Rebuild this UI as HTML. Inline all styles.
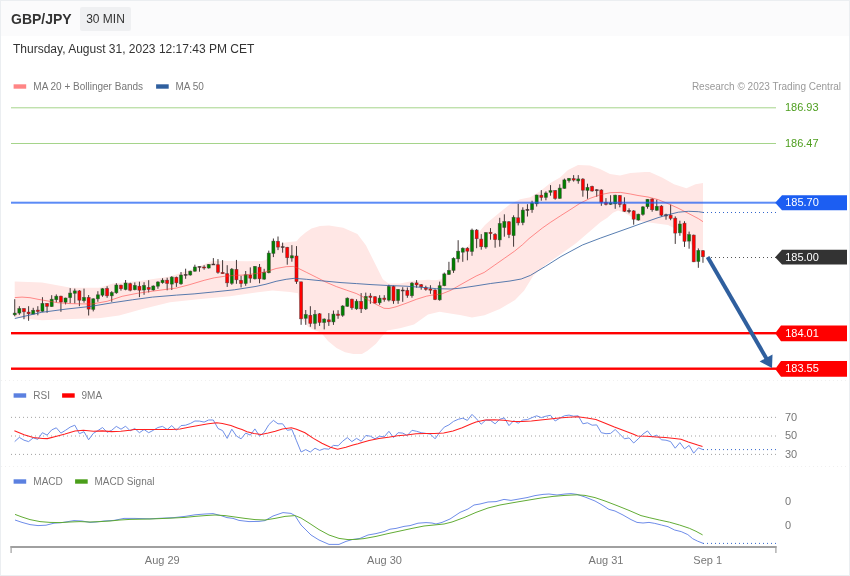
<!DOCTYPE html>
<html lang="en">
<head>
<meta charset="utf-8">
<title>GBP/JPY 30 MIN</title>
<style>
html,body{margin:0;padding:0;background:#fff;}
body{width:850px;height:576px;overflow:hidden;font-family:"Liberation Sans",sans-serif;}
#wrap{position:relative;width:848px;height:574px;border:1px solid #ebeef1;background:#fff;}
#hdr{position:absolute;left:0;top:0;width:848px;height:35px;background:#fbfbfc;}
#sym{position:absolute;left:10px;top:9px;font-size:14px;font-weight:bold;color:#333;line-height:18px;white-space:nowrap;}
#tf{position:absolute;left:79px;top:6px;width:51px;height:24px;background:#eff0f2;border-radius:2px;font-size:12px;color:#333;line-height:24px;text-align:center;white-space:nowrap;}
#date{position:absolute;left:12px;top:40px;font-size:12px;color:#333;line-height:16px;white-space:nowrap;}
svg{position:absolute;left:-1px;top:-1px;}
svg text{font-family:"Liberation Sans",sans-serif;}
</style>
</head>
<body>
<div id="wrap">
<div id="hdr"></div>
<div id="sym">GBP/JPY</div>
<div id="tf">30 MIN</div>
<div id="date">Thursday, August 31, 2023 12:17:43 PM CET</div>
<svg width="850" height="576" viewBox="0 0 850 576">
<polygon points="14.7,281.5 42.0,282.6 71.0,287.7 99.0,287.7 113.0,283.5 141.5,280.7 170.0,276.4 192.0,269.3 212.0,260.9 230.0,260.9 247.0,261.2 262.0,261.0 266.0,260.0 270.0,256.0 274.0,250.5 278.0,246.0 282.0,243.0 289.0,242.1 296.5,241.2 300.2,236.9 305.9,232.2 311.5,228.5 320.0,226.1 329.0,225.5 343.2,227.7 357.4,234.0 365.9,245.3 374.4,262.3 382.8,279.3 388.5,283.5 399.8,283.5 414.0,280.7 428.0,279.8 436.0,280.2 441.3,279.3 446.0,274.0 452.0,266.5 458.0,258.8 463.2,252.2 470.0,243.5 476.0,236.0 482.0,228.5 485.0,225.0 490.0,220.5 500.0,212.3 510.0,204.2 520.2,199.2 530.3,197.2 540.4,191.1 550.4,183.1 560.0,177.6 568.0,170.1 578.0,165.0 590.0,165.5 600.0,169.1 610.0,174.1 620.0,175.6 630.5,173.1 645.0,171.9 649.7,172.0 662.0,177.5 674.0,184.3 686.4,188.2 695.5,184.3 703.0,183.0 703.0,252.0 698.0,249.5 693.0,246.0 688.0,241.0 684.0,236.0 679.0,231.0 674.0,228.0 668.0,225.0 653.0,223.0 638.0,221.0 631.0,216.5 624.0,212.5 618.0,210.4 613.0,212.7 607.0,218.0 600.7,221.9 588.5,232.6 576.0,243.3 561.0,254.0 545.7,264.7 533.4,275.4 524.0,290.7 515.0,300.0 499.8,309.0 484.5,315.2 472.0,317.6 460.0,315.0 456.4,314.6 439.5,311.8 428.0,314.6 414.0,324.5 400.0,328.2 387.3,330.4 381.6,336.7 376.0,343.8 367.5,350.8 361.9,354.0 353.4,354.0 345.0,352.2 336.5,348.0 328.0,341.0 321.0,332.5 314.0,330.0 308.2,326.8 304.0,321.5 301.0,316.0 299.5,305.0 298.0,293.3 290.0,292.0 272.5,290.6 258.0,292.3 230.0,296.3 198.0,299.3 170.0,302.3 141.5,309.3 130.0,312.6 119.0,315.4 99.0,318.3 71.0,318.9 42.0,320.3 14.7,317.5" fill="#ffe7e5" />
<rect x="14.23" y="299.2" width="1" height="17.1" fill="#433838"/>
<rect x="13.18" y="313.1" width="3.1" height="1.7" fill="#008000" stroke="#433838" stroke-opacity="0.65" stroke-width="0.65"/>
<rect x="18.85" y="306.2" width="1" height="8.6" fill="#433838"/>
<rect x="17.80" y="308.5" width="3.1" height="4.6" fill="#008000" stroke="#433838" stroke-opacity="0.65" stroke-width="0.65"/>
<rect x="23.47" y="308.3" width="1" height="10.9" fill="#433838"/>
<rect x="22.42" y="308.5" width="3.1" height="3.3" fill="#ff0000" stroke="#433838" stroke-opacity="0.65" stroke-width="0.65"/>
<rect x="28.09" y="306.2" width="1" height="14.6" fill="#433838"/>
<rect x="27.04" y="312.1" width="3.1" height="1.7" fill="#ff0000" stroke="#433838" stroke-opacity="0.65" stroke-width="0.65"/>
<rect x="32.71" y="307.8" width="1" height="6.5" fill="#433838"/>
<rect x="31.66" y="310.3" width="3.1" height="3.8" fill="#008000" stroke="#433838" stroke-opacity="0.65" stroke-width="0.65"/>
<rect x="37.33" y="306.2" width="1" height="9.1" fill="#433838"/>
<rect x="36.28" y="310.1" width="3.1" height="1.4" fill="#ff0000" stroke="#433838" stroke-opacity="0.65" stroke-width="0.65"/>
<rect x="41.94" y="297.2" width="1" height="14.6" fill="#433838"/>
<rect x="40.89" y="303.4" width="3.1" height="7.9" fill="#008000" stroke="#433838" stroke-opacity="0.65" stroke-width="0.65"/>
<rect x="46.56" y="303.2" width="1" height="9.6" fill="#433838"/>
<rect x="45.51" y="303.4" width="3.1" height="3.0" fill="#ff0000" stroke="#433838" stroke-opacity="0.65" stroke-width="0.65"/>
<rect x="51.18" y="295.2" width="1" height="11.6" fill="#433838"/>
<rect x="50.13" y="299.2" width="3.1" height="7.4" fill="#008000" stroke="#433838" stroke-opacity="0.65" stroke-width="0.65"/>
<rect x="55.80" y="294.4" width="1" height="7.9" fill="#433838"/>
<rect x="54.75" y="296.2" width="3.1" height="3.5" fill="#008000" stroke="#433838" stroke-opacity="0.65" stroke-width="0.65"/>
<rect x="60.42" y="295.7" width="1" height="16.1" fill="#433838"/>
<rect x="59.37" y="296.2" width="3.1" height="5.8" fill="#ff0000" stroke="#433838" stroke-opacity="0.65" stroke-width="0.65"/>
<rect x="65.04" y="297.7" width="1" height="6.7" fill="#433838"/>
<rect x="63.99" y="298.0" width="3.1" height="4.2" fill="#008000" stroke="#433838" stroke-opacity="0.65" stroke-width="0.65"/>
<rect x="69.66" y="288.1" width="1" height="15.1" fill="#433838"/>
<rect x="68.61" y="293.1" width="3.1" height="4.5" fill="#008000" stroke="#433838" stroke-opacity="0.65" stroke-width="0.65"/>
<rect x="74.28" y="288.6" width="1" height="14.8" fill="#433838"/>
<rect x="73.23" y="290.9" width="3.1" height="2.4" fill="#008000" stroke="#433838" stroke-opacity="0.65" stroke-width="0.65"/>
<rect x="78.90" y="290.1" width="1" height="16.1" fill="#433838"/>
<rect x="77.85" y="290.9" width="3.1" height="9.3" fill="#ff0000" stroke="#433838" stroke-opacity="0.65" stroke-width="0.65"/>
<rect x="83.52" y="288.6" width="1" height="14.1" fill="#433838"/>
<rect x="82.47" y="297.4" width="3.1" height="3.3" fill="#008000" stroke="#433838" stroke-opacity="0.65" stroke-width="0.65"/>
<rect x="88.13" y="295.0" width="1" height="20.5" fill="#433838"/>
<rect x="87.08" y="297.4" width="3.1" height="11.7" fill="#ff0000" stroke="#433838" stroke-opacity="0.65" stroke-width="0.65"/>
<rect x="92.75" y="298.3" width="1" height="13.1" fill="#433838"/>
<rect x="91.70" y="298.8" width="3.1" height="10.6" fill="#008000" stroke="#433838" stroke-opacity="0.65" stroke-width="0.65"/>
<rect x="97.37" y="291.2" width="1" height="10.6" fill="#433838"/>
<rect x="96.32" y="294.8" width="3.1" height="4.0" fill="#008000" stroke="#433838" stroke-opacity="0.65" stroke-width="0.65"/>
<rect x="101.99" y="288.2" width="1" height="8.6" fill="#433838"/>
<rect x="100.94" y="288.7" width="3.1" height="6.5" fill="#008000" stroke="#433838" stroke-opacity="0.65" stroke-width="0.65"/>
<rect x="106.61" y="286.2" width="1" height="11.6" fill="#433838"/>
<rect x="105.56" y="288.4" width="3.1" height="7.4" fill="#ff0000" stroke="#433838" stroke-opacity="0.65" stroke-width="0.65"/>
<rect x="111.23" y="291.2" width="1" height="10.6" fill="#433838"/>
<rect x="110.18" y="292.5" width="3.1" height="3.3" fill="#008000" stroke="#433838" stroke-opacity="0.65" stroke-width="0.65"/>
<rect x="115.85" y="283.2" width="1" height="10.6" fill="#433838"/>
<rect x="114.80" y="285.0" width="3.1" height="7.8" fill="#008000" stroke="#433838" stroke-opacity="0.65" stroke-width="0.65"/>
<rect x="120.47" y="284.7" width="1" height="6.0" fill="#433838"/>
<rect x="119.42" y="285.2" width="3.1" height="3.5" fill="#ff0000" stroke="#433838" stroke-opacity="0.65" stroke-width="0.65"/>
<rect x="125.09" y="280.0" width="1" height="10.3" fill="#433838"/>
<rect x="124.04" y="283.0" width="3.1" height="6.5" fill="#008000" stroke="#433838" stroke-opacity="0.65" stroke-width="0.65"/>
<rect x="129.70" y="282.7" width="1" height="8.6" fill="#433838"/>
<rect x="128.65" y="283.7" width="3.1" height="6.5" fill="#ff0000" stroke="#433838" stroke-opacity="0.65" stroke-width="0.65"/>
<rect x="134.32" y="282.4" width="1" height="7.9" fill="#433838"/>
<rect x="133.27" y="285.4" width="3.1" height="4.3" fill="#008000" stroke="#433838" stroke-opacity="0.65" stroke-width="0.65"/>
<rect x="138.94" y="281.7" width="1" height="15.4" fill="#433838"/>
<rect x="137.89" y="286.2" width="3.1" height="4.0" fill="#ff0000" stroke="#433838" stroke-opacity="0.65" stroke-width="0.65"/>
<rect x="143.56" y="282.2" width="1" height="12.6" fill="#433838"/>
<rect x="142.51" y="285.4" width="3.1" height="4.6" fill="#008000" stroke="#433838" stroke-opacity="0.65" stroke-width="0.65"/>
<rect x="148.18" y="280.2" width="1" height="12.3" fill="#433838"/>
<rect x="147.13" y="287.4" width="3.1" height="2.0" fill="#ff0000" stroke="#433838" stroke-opacity="0.65" stroke-width="0.65"/>
<rect x="152.80" y="285.4" width="1" height="5.3" fill="#433838"/>
<rect x="151.75" y="286.0" width="3.1" height="4.0" fill="#008000" stroke="#433838" stroke-opacity="0.65" stroke-width="0.65"/>
<rect x="157.42" y="281.2" width="1" height="7.6" fill="#433838"/>
<rect x="156.37" y="282.0" width="3.1" height="4.2" fill="#008000" stroke="#433838" stroke-opacity="0.65" stroke-width="0.65"/>
<rect x="162.04" y="278.2" width="1" height="5.5" fill="#433838"/>
<rect x="160.99" y="280.2" width="3.1" height="2.5" fill="#008000" stroke="#433838" stroke-opacity="0.65" stroke-width="0.65"/>
<rect x="166.66" y="277.7" width="1" height="12.6" fill="#433838"/>
<rect x="165.61" y="280.2" width="3.1" height="3.2" fill="#ff0000" stroke="#433838" stroke-opacity="0.65" stroke-width="0.65"/>
<rect x="171.28" y="276.1" width="1" height="13.9" fill="#433838"/>
<rect x="170.23" y="277.1" width="3.1" height="7.0" fill="#008000" stroke="#433838" stroke-opacity="0.65" stroke-width="0.65"/>
<rect x="175.89" y="276.6" width="1" height="10.3" fill="#433838"/>
<rect x="174.84" y="277.3" width="3.1" height="5.5" fill="#ff0000" stroke="#433838" stroke-opacity="0.65" stroke-width="0.65"/>
<rect x="180.51" y="272.0" width="1" height="12.8" fill="#433838"/>
<rect x="179.46" y="275.0" width="3.1" height="8.8" fill="#008000" stroke="#433838" stroke-opacity="0.65" stroke-width="0.65"/>
<rect x="185.13" y="268.7" width="1" height="10.1" fill="#433838"/>
<rect x="184.08" y="274.4" width="3.1" height="1.0" fill="#4a2a2a" stroke="#433838" stroke-opacity="0.65" stroke-width="0.65"/>
<rect x="189.75" y="270.7" width="1" height="5.0" fill="#433838"/>
<rect x="188.70" y="271.2" width="3.1" height="3.8" fill="#008000" stroke="#433838" stroke-opacity="0.65" stroke-width="0.65"/>
<rect x="194.37" y="264.7" width="1" height="7.0" fill="#433838"/>
<rect x="193.32" y="267.0" width="3.1" height="4.2" fill="#008000" stroke="#433838" stroke-opacity="0.65" stroke-width="0.65"/>
<rect x="198.99" y="266.4" width="1" height="5.3" fill="#433838"/>
<rect x="197.94" y="266.4" width="3.1" height="1.0" fill="#4a2a2a" stroke="#433838" stroke-opacity="0.65" stroke-width="0.65"/>
<rect x="203.61" y="265.2" width="1" height="4.5" fill="#433838"/>
<rect x="202.56" y="267.0" width="3.1" height="1.0" fill="#ff0000" stroke="#433838" stroke-opacity="0.65" stroke-width="0.65"/>
<rect x="208.23" y="264.0" width="1" height="4.7" fill="#433838"/>
<rect x="207.18" y="264.4" width="3.1" height="3.6" fill="#008000" stroke="#433838" stroke-opacity="0.65" stroke-width="0.65"/>
<rect x="212.85" y="258.1" width="1" height="6.5" fill="#433838"/>
<rect x="211.80" y="264.0" width="3.1" height="1.0" fill="#4a2a2a" stroke="#433838" stroke-opacity="0.65" stroke-width="0.65"/>
<rect x="217.47" y="259.1" width="1" height="14.6" fill="#433838"/>
<rect x="216.42" y="264.7" width="3.1" height="7.6" fill="#ff0000" stroke="#433838" stroke-opacity="0.65" stroke-width="0.65"/>
<rect x="222.08" y="260.1" width="1" height="13.6" fill="#433838"/>
<rect x="221.03" y="272.4" width="3.1" height="1.3" fill="#ff0000" stroke="#433838" stroke-opacity="0.65" stroke-width="0.65"/>
<rect x="226.70" y="265.2" width="1" height="21.7" fill="#433838"/>
<rect x="225.65" y="273.7" width="3.1" height="9.1" fill="#ff0000" stroke="#433838" stroke-opacity="0.65" stroke-width="0.65"/>
<rect x="231.32" y="268.0" width="1" height="16.8" fill="#433838"/>
<rect x="230.27" y="269.2" width="3.1" height="14.1" fill="#008000" stroke="#433838" stroke-opacity="0.65" stroke-width="0.65"/>
<rect x="235.94" y="259.9" width="1" height="23.9" fill="#433838"/>
<rect x="234.89" y="269.4" width="3.1" height="10.4" fill="#ff0000" stroke="#433838" stroke-opacity="0.65" stroke-width="0.65"/>
<rect x="240.56" y="275.8" width="1" height="11.6" fill="#433838"/>
<rect x="239.51" y="280.3" width="3.1" height="3.2" fill="#ff0000" stroke="#433838" stroke-opacity="0.65" stroke-width="0.65"/>
<rect x="245.18" y="271.0" width="1" height="14.8" fill="#433838"/>
<rect x="244.13" y="274.7" width="3.1" height="8.8" fill="#008000" stroke="#433838" stroke-opacity="0.65" stroke-width="0.65"/>
<rect x="249.80" y="267.4" width="1" height="15.4" fill="#433838"/>
<rect x="248.75" y="275.0" width="3.1" height="3.2" fill="#ff0000" stroke="#433838" stroke-opacity="0.65" stroke-width="0.65"/>
<rect x="254.42" y="266.0" width="1" height="13.5" fill="#433838"/>
<rect x="253.37" y="266.4" width="3.1" height="12.4" fill="#008000" stroke="#433838" stroke-opacity="0.65" stroke-width="0.65"/>
<rect x="259.04" y="264.0" width="1" height="19.3" fill="#433838"/>
<rect x="257.99" y="267.2" width="3.1" height="11.6" fill="#ff0000" stroke="#433838" stroke-opacity="0.65" stroke-width="0.65"/>
<rect x="263.66" y="268.8" width="1" height="11.1" fill="#433838"/>
<rect x="262.61" y="272.3" width="3.1" height="6.8" fill="#008000" stroke="#433838" stroke-opacity="0.65" stroke-width="0.65"/>
<rect x="268.27" y="250.6" width="1" height="22.7" fill="#433838"/>
<rect x="267.22" y="253.1" width="3.1" height="19.6" fill="#008000" stroke="#433838" stroke-opacity="0.65" stroke-width="0.65"/>
<rect x="272.89" y="238.5" width="1" height="18.6" fill="#433838"/>
<rect x="271.84" y="241.1" width="3.1" height="12.3" fill="#008000" stroke="#433838" stroke-opacity="0.65" stroke-width="0.65"/>
<rect x="277.51" y="236.5" width="1" height="13.6" fill="#433838"/>
<rect x="276.46" y="241.3" width="3.1" height="5.8" fill="#ff0000" stroke="#433838" stroke-opacity="0.65" stroke-width="0.65"/>
<rect x="282.13" y="242.6" width="1" height="10.1" fill="#433838"/>
<rect x="281.08" y="246.6" width="3.1" height="1.0" fill="#4a2a2a" stroke="#433838" stroke-opacity="0.65" stroke-width="0.65"/>
<rect x="286.75" y="246.9" width="1" height="17.8" fill="#433838"/>
<rect x="285.70" y="247.3" width="3.1" height="10.4" fill="#ff0000" stroke="#433838" stroke-opacity="0.65" stroke-width="0.65"/>
<rect x="291.37" y="245.1" width="1" height="16.6" fill="#433838"/>
<rect x="290.32" y="255.7" width="3.1" height="2.3" fill="#008000" stroke="#433838" stroke-opacity="0.65" stroke-width="0.65"/>
<rect x="295.99" y="246.1" width="1" height="37.8" fill="#433838"/>
<rect x="294.94" y="256.0" width="3.1" height="25.6" fill="#ff0000" stroke="#433838" stroke-opacity="0.65" stroke-width="0.65"/>
<rect x="300.61" y="281.8" width="1" height="43.0" fill="#433838"/>
<rect x="299.56" y="281.8" width="3.1" height="37.0" fill="#ff0000" stroke="#433838" stroke-opacity="0.65" stroke-width="0.65"/>
<rect x="305.23" y="310.0" width="1" height="14.8" fill="#433838"/>
<rect x="304.18" y="314.5" width="3.1" height="3.8" fill="#008000" stroke="#433838" stroke-opacity="0.65" stroke-width="0.65"/>
<rect x="309.85" y="306.2" width="1" height="20.6" fill="#433838"/>
<rect x="308.80" y="315.3" width="3.1" height="8.1" fill="#ff0000" stroke="#433838" stroke-opacity="0.65" stroke-width="0.65"/>
<rect x="314.47" y="310.0" width="1" height="19.3" fill="#433838"/>
<rect x="313.42" y="314.3" width="3.1" height="9.1" fill="#008000" stroke="#433838" stroke-opacity="0.65" stroke-width="0.65"/>
<rect x="319.08" y="313.1" width="1" height="12.8" fill="#433838"/>
<rect x="318.03" y="313.8" width="3.1" height="8.6" fill="#ff0000" stroke="#433838" stroke-opacity="0.65" stroke-width="0.65"/>
<rect x="323.70" y="318.3" width="1" height="11.1" fill="#433838"/>
<rect x="322.65" y="319.1" width="3.1" height="3.4" fill="#008000" stroke="#433838" stroke-opacity="0.65" stroke-width="0.65"/>
<rect x="328.32" y="313.1" width="1" height="12.8" fill="#433838"/>
<rect x="327.27" y="319.8" width="3.1" height="2.0" fill="#ff0000" stroke="#433838" stroke-opacity="0.65" stroke-width="0.65"/>
<rect x="332.94" y="310.5" width="1" height="14.4" fill="#433838"/>
<rect x="331.89" y="314.1" width="3.1" height="7.8" fill="#008000" stroke="#433838" stroke-opacity="0.65" stroke-width="0.65"/>
<rect x="337.56" y="310.2" width="1" height="8.6" fill="#433838"/>
<rect x="336.51" y="314.1" width="3.1" height="1.4" fill="#ff0000" stroke="#433838" stroke-opacity="0.65" stroke-width="0.65"/>
<rect x="342.18" y="305.2" width="1" height="11.6" fill="#433838"/>
<rect x="341.13" y="306.0" width="3.1" height="9.3" fill="#008000" stroke="#433838" stroke-opacity="0.65" stroke-width="0.65"/>
<rect x="346.80" y="297.4" width="1" height="9.4" fill="#433838"/>
<rect x="345.75" y="298.2" width="3.1" height="8.1" fill="#008000" stroke="#433838" stroke-opacity="0.65" stroke-width="0.65"/>
<rect x="351.42" y="298.7" width="1" height="11.1" fill="#433838"/>
<rect x="350.37" y="299.2" width="3.1" height="8.6" fill="#ff0000" stroke="#433838" stroke-opacity="0.65" stroke-width="0.65"/>
<rect x="356.04" y="299.2" width="1" height="10.6" fill="#433838"/>
<rect x="354.99" y="301.2" width="3.1" height="7.6" fill="#008000" stroke="#433838" stroke-opacity="0.65" stroke-width="0.65"/>
<rect x="360.65" y="293.1" width="1" height="19.9" fill="#433838"/>
<rect x="359.60" y="301.4" width="3.1" height="7.4" fill="#ff0000" stroke="#433838" stroke-opacity="0.65" stroke-width="0.65"/>
<rect x="365.27" y="292.6" width="1" height="17.4" fill="#433838"/>
<rect x="364.22" y="296.4" width="3.1" height="12.4" fill="#008000" stroke="#433838" stroke-opacity="0.65" stroke-width="0.65"/>
<rect x="369.89" y="293.2" width="1" height="10.6" fill="#433838"/>
<rect x="368.84" y="296.0" width="3.1" height="1.4" fill="#ff0000" stroke="#433838" stroke-opacity="0.65" stroke-width="0.65"/>
<rect x="374.51" y="296.2" width="1" height="7.6" fill="#433838"/>
<rect x="373.46" y="296.7" width="3.1" height="6.3" fill="#ff0000" stroke="#433838" stroke-opacity="0.65" stroke-width="0.65"/>
<rect x="379.13" y="295.2" width="1" height="9.6" fill="#433838"/>
<rect x="378.08" y="298.1" width="3.1" height="4.7" fill="#008000" stroke="#433838" stroke-opacity="0.65" stroke-width="0.65"/>
<rect x="383.75" y="295.2" width="1" height="6.5" fill="#433838"/>
<rect x="382.70" y="298.1" width="3.1" height="1.4" fill="#ff0000" stroke="#433838" stroke-opacity="0.65" stroke-width="0.65"/>
<rect x="388.37" y="284.7" width="1" height="16.8" fill="#433838"/>
<rect x="387.32" y="286.4" width="3.1" height="13.7" fill="#008000" stroke="#433838" stroke-opacity="0.65" stroke-width="0.65"/>
<rect x="392.99" y="285.7" width="1" height="18.1" fill="#433838"/>
<rect x="391.94" y="286.4" width="3.1" height="14.4" fill="#ff0000" stroke="#433838" stroke-opacity="0.65" stroke-width="0.65"/>
<rect x="397.61" y="289.0" width="1" height="14.8" fill="#433838"/>
<rect x="396.56" y="289.4" width="3.1" height="11.1" fill="#008000" stroke="#433838" stroke-opacity="0.65" stroke-width="0.65"/>
<rect x="402.23" y="287.2" width="1" height="14.6" fill="#433838"/>
<rect x="401.18" y="290.0" width="3.1" height="1.0" fill="#4a2a2a" stroke="#433838" stroke-opacity="0.65" stroke-width="0.65"/>
<rect x="406.85" y="287.4" width="1" height="10.4" fill="#433838"/>
<rect x="405.80" y="290.4" width="3.1" height="5.0" fill="#ff0000" stroke="#433838" stroke-opacity="0.65" stroke-width="0.65"/>
<rect x="411.46" y="282.1" width="1" height="15.6" fill="#433838"/>
<rect x="410.41" y="283.1" width="3.1" height="12.6" fill="#008000" stroke="#433838" stroke-opacity="0.65" stroke-width="0.65"/>
<rect x="416.08" y="280.1" width="1" height="7.6" fill="#433838"/>
<rect x="415.03" y="282.9" width="3.1" height="2.0" fill="#ff0000" stroke="#433838" stroke-opacity="0.65" stroke-width="0.65"/>
<rect x="420.70" y="284.0" width="1" height="5.7" fill="#433838"/>
<rect x="419.65" y="284.7" width="3.1" height="2.0" fill="#ff0000" stroke="#433838" stroke-opacity="0.65" stroke-width="0.65"/>
<rect x="425.32" y="285.7" width="1" height="5.0" fill="#433838"/>
<rect x="424.27" y="287.7" width="3.1" height="1.7" fill="#ff0000" stroke="#433838" stroke-opacity="0.65" stroke-width="0.65"/>
<rect x="429.94" y="285.2" width="1" height="8.6" fill="#433838"/>
<rect x="428.89" y="289.0" width="3.1" height="1.2" fill="#ff0000" stroke="#433838" stroke-opacity="0.65" stroke-width="0.65"/>
<rect x="434.56" y="289.2" width="1" height="10.9" fill="#433838"/>
<rect x="433.51" y="290.0" width="3.1" height="9.5" fill="#ff0000" stroke="#433838" stroke-opacity="0.65" stroke-width="0.65"/>
<rect x="439.18" y="281.6" width="1" height="19.1" fill="#433838"/>
<rect x="438.13" y="285.7" width="3.1" height="14.1" fill="#008000" stroke="#433838" stroke-opacity="0.65" stroke-width="0.65"/>
<rect x="443.80" y="272.6" width="1" height="13.6" fill="#433838"/>
<rect x="442.75" y="273.9" width="3.1" height="11.8" fill="#008000" stroke="#433838" stroke-opacity="0.65" stroke-width="0.65"/>
<rect x="448.42" y="261.8" width="1" height="13.1" fill="#433838"/>
<rect x="447.37" y="270.4" width="3.1" height="4.0" fill="#008000" stroke="#433838" stroke-opacity="0.65" stroke-width="0.65"/>
<rect x="453.03" y="257.3" width="1" height="15.6" fill="#433838"/>
<rect x="451.98" y="258.3" width="3.1" height="12.1" fill="#008000" stroke="#433838" stroke-opacity="0.65" stroke-width="0.65"/>
<rect x="457.65" y="240.2" width="1" height="22.2" fill="#433838"/>
<rect x="456.60" y="251.2" width="3.1" height="7.6" fill="#008000" stroke="#433838" stroke-opacity="0.65" stroke-width="0.65"/>
<rect x="462.27" y="247.4" width="1" height="14.4" fill="#433838"/>
<rect x="461.22" y="248.2" width="3.1" height="4.0" fill="#008000" stroke="#433838" stroke-opacity="0.65" stroke-width="0.65"/>
<rect x="466.89" y="247.2" width="1" height="13.1" fill="#433838"/>
<rect x="465.84" y="248.2" width="3.1" height="3.0" fill="#ff0000" stroke="#433838" stroke-opacity="0.65" stroke-width="0.65"/>
<rect x="471.51" y="228.6" width="1" height="27.2" fill="#433838"/>
<rect x="470.46" y="230.1" width="3.1" height="21.4" fill="#008000" stroke="#433838" stroke-opacity="0.65" stroke-width="0.65"/>
<rect x="476.13" y="229.1" width="1" height="19.1" fill="#433838"/>
<rect x="475.08" y="230.1" width="3.1" height="8.6" fill="#ff0000" stroke="#433838" stroke-opacity="0.65" stroke-width="0.65"/>
<rect x="480.75" y="234.1" width="1" height="15.6" fill="#433838"/>
<rect x="479.70" y="239.1" width="3.1" height="7.6" fill="#ff0000" stroke="#433838" stroke-opacity="0.65" stroke-width="0.65"/>
<rect x="485.37" y="232.1" width="1" height="16.6" fill="#433838"/>
<rect x="484.32" y="232.6" width="3.1" height="14.4" fill="#008000" stroke="#433838" stroke-opacity="0.65" stroke-width="0.65"/>
<rect x="489.99" y="228.1" width="1" height="11.6" fill="#433838"/>
<rect x="488.94" y="232.3" width="3.1" height="1.3" fill="#ff0000" stroke="#433838" stroke-opacity="0.65" stroke-width="0.65"/>
<rect x="494.61" y="233.1" width="1" height="14.6" fill="#433838"/>
<rect x="493.56" y="234.3" width="3.1" height="5.3" fill="#ff0000" stroke="#433838" stroke-opacity="0.65" stroke-width="0.65"/>
<rect x="499.23" y="217.8" width="1" height="28.9" fill="#433838"/>
<rect x="498.18" y="223.5" width="3.1" height="16.4" fill="#008000" stroke="#433838" stroke-opacity="0.65" stroke-width="0.65"/>
<rect x="503.84" y="214.3" width="1" height="22.4" fill="#433838"/>
<rect x="502.79" y="221.5" width="3.1" height="6.0" fill="#008000" stroke="#433838" stroke-opacity="0.65" stroke-width="0.65"/>
<rect x="508.46" y="221.0" width="1" height="17.1" fill="#433838"/>
<rect x="507.41" y="221.8" width="3.1" height="12.8" fill="#ff0000" stroke="#433838" stroke-opacity="0.65" stroke-width="0.65"/>
<rect x="513.08" y="215.3" width="1" height="31.4" fill="#433838"/>
<rect x="512.03" y="217.3" width="3.1" height="18.3" fill="#008000" stroke="#433838" stroke-opacity="0.65" stroke-width="0.65"/>
<rect x="517.70" y="203.7" width="1" height="21.7" fill="#433838"/>
<rect x="516.65" y="217.8" width="3.1" height="5.0" fill="#ff0000" stroke="#433838" stroke-opacity="0.65" stroke-width="0.65"/>
<rect x="522.32" y="207.3" width="1" height="17.9" fill="#433838"/>
<rect x="521.27" y="210.1" width="3.1" height="12.5" fill="#008000" stroke="#433838" stroke-opacity="0.65" stroke-width="0.65"/>
<rect x="526.94" y="204.2" width="1" height="12.3" fill="#433838"/>
<rect x="525.89" y="209.3" width="3.1" height="1.2" fill="#4a2a2a" stroke="#433838" stroke-opacity="0.65" stroke-width="0.65"/>
<rect x="531.56" y="200.7" width="1" height="12.1" fill="#433838"/>
<rect x="530.51" y="203.0" width="3.1" height="6.7" fill="#008000" stroke="#433838" stroke-opacity="0.65" stroke-width="0.65"/>
<rect x="536.18" y="194.7" width="1" height="11.8" fill="#433838"/>
<rect x="535.13" y="195.0" width="3.1" height="8.8" fill="#008000" stroke="#433838" stroke-opacity="0.65" stroke-width="0.65"/>
<rect x="540.80" y="190.1" width="1" height="10.6" fill="#433838"/>
<rect x="539.75" y="195.2" width="3.1" height="2.2" fill="#ff0000" stroke="#433838" stroke-opacity="0.65" stroke-width="0.65"/>
<rect x="545.41" y="191.4" width="1" height="8.9" fill="#433838"/>
<rect x="544.37" y="193.0" width="3.1" height="4.4" fill="#008000" stroke="#433838" stroke-opacity="0.65" stroke-width="0.65"/>
<rect x="550.03" y="185.1" width="1" height="10.6" fill="#433838"/>
<rect x="548.98" y="190.6" width="3.1" height="1.7" fill="#008000" stroke="#433838" stroke-opacity="0.65" stroke-width="0.65"/>
<rect x="554.65" y="190.1" width="1" height="9.6" fill="#433838"/>
<rect x="553.60" y="190.6" width="3.1" height="7.8" fill="#ff0000" stroke="#433838" stroke-opacity="0.65" stroke-width="0.65"/>
<rect x="559.27" y="184.3" width="1" height="14.4" fill="#433838"/>
<rect x="558.22" y="188.1" width="3.1" height="10.3" fill="#008000" stroke="#433838" stroke-opacity="0.65" stroke-width="0.65"/>
<rect x="563.89" y="178.6" width="1" height="10.1" fill="#433838"/>
<rect x="562.84" y="179.9" width="3.1" height="8.5" fill="#008000" stroke="#433838" stroke-opacity="0.65" stroke-width="0.65"/>
<rect x="568.51" y="178.1" width="1" height="4.5" fill="#433838"/>
<rect x="567.46" y="178.3" width="3.1" height="2.3" fill="#008000" stroke="#433838" stroke-opacity="0.65" stroke-width="0.65"/>
<rect x="573.13" y="175.1" width="1" height="6.5" fill="#433838"/>
<rect x="572.08" y="178.6" width="3.1" height="1.5" fill="#ff0000" stroke="#433838" stroke-opacity="0.65" stroke-width="0.65"/>
<rect x="577.75" y="175.1" width="1" height="8.6" fill="#433838"/>
<rect x="576.70" y="178.9" width="3.1" height="2.0" fill="#008000" stroke="#433838" stroke-opacity="0.65" stroke-width="0.65"/>
<rect x="582.37" y="178.1" width="1" height="18.6" fill="#433838"/>
<rect x="581.32" y="179.1" width="3.1" height="11.1" fill="#ff0000" stroke="#433838" stroke-opacity="0.65" stroke-width="0.65"/>
<rect x="586.99" y="183.7" width="1" height="15.1" fill="#433838"/>
<rect x="585.94" y="187.4" width="3.1" height="3.0" fill="#008000" stroke="#433838" stroke-opacity="0.65" stroke-width="0.65"/>
<rect x="591.61" y="185.7" width="1" height="6.0" fill="#433838"/>
<rect x="590.56" y="186.4" width="3.1" height="4.6" fill="#ff0000" stroke="#433838" stroke-opacity="0.65" stroke-width="0.65"/>
<rect x="596.22" y="189.2" width="1" height="7.6" fill="#433838"/>
<rect x="595.17" y="189.7" width="3.1" height="1.0" fill="#4a2a2a" stroke="#433838" stroke-opacity="0.65" stroke-width="0.65"/>
<rect x="600.84" y="189.2" width="1" height="16.6" fill="#433838"/>
<rect x="599.79" y="190.0" width="3.1" height="12.3" fill="#ff0000" stroke="#433838" stroke-opacity="0.65" stroke-width="0.65"/>
<rect x="605.46" y="198.1" width="1" height="7.3" fill="#433838"/>
<rect x="604.41" y="202.3" width="3.1" height="2.0" fill="#ff0000" stroke="#433838" stroke-opacity="0.65" stroke-width="0.65"/>
<rect x="610.08" y="195.2" width="1" height="9.6" fill="#433838"/>
<rect x="609.03" y="202.8" width="3.1" height="1.5" fill="#008000" stroke="#433838" stroke-opacity="0.65" stroke-width="0.65"/>
<rect x="614.70" y="194.7" width="1" height="14.1" fill="#433838"/>
<rect x="613.65" y="195.2" width="3.1" height="8.6" fill="#008000" stroke="#433838" stroke-opacity="0.65" stroke-width="0.65"/>
<rect x="619.32" y="195.2" width="1" height="12.1" fill="#433838"/>
<rect x="618.27" y="195.5" width="3.1" height="8.9" fill="#ff0000" stroke="#433838" stroke-opacity="0.65" stroke-width="0.65"/>
<rect x="623.94" y="197.3" width="1" height="14.6" fill="#433838"/>
<rect x="622.89" y="204.3" width="3.1" height="7.0" fill="#ff0000" stroke="#433838" stroke-opacity="0.65" stroke-width="0.65"/>
<rect x="628.56" y="208.3" width="1" height="5.0" fill="#433838"/>
<rect x="627.51" y="210.4" width="3.1" height="1.2" fill="#4a2a2a" stroke="#433838" stroke-opacity="0.65" stroke-width="0.65"/>
<rect x="633.18" y="210.1" width="1" height="14.6" fill="#433838"/>
<rect x="632.13" y="210.9" width="3.1" height="8.3" fill="#ff0000" stroke="#433838" stroke-opacity="0.65" stroke-width="0.65"/>
<rect x="637.79" y="213.7" width="1" height="7.0" fill="#433838"/>
<rect x="636.75" y="214.2" width="3.1" height="5.8" fill="#008000" stroke="#433838" stroke-opacity="0.65" stroke-width="0.65"/>
<rect x="642.41" y="206.1" width="1" height="9.6" fill="#433838"/>
<rect x="641.36" y="206.9" width="3.1" height="7.5" fill="#008000" stroke="#433838" stroke-opacity="0.65" stroke-width="0.65"/>
<rect x="647.03" y="199.1" width="1" height="9.6" fill="#433838"/>
<rect x="645.98" y="199.3" width="3.1" height="7.4" fill="#008000" stroke="#433838" stroke-opacity="0.65" stroke-width="0.65"/>
<rect x="651.65" y="198.1" width="1" height="13.6" fill="#433838"/>
<rect x="650.60" y="199.1" width="3.1" height="10.6" fill="#ff0000" stroke="#433838" stroke-opacity="0.65" stroke-width="0.65"/>
<rect x="656.27" y="199.6" width="1" height="11.1" fill="#433838"/>
<rect x="655.22" y="206.3" width="3.1" height="4.0" fill="#008000" stroke="#433838" stroke-opacity="0.65" stroke-width="0.65"/>
<rect x="660.89" y="205.1" width="1" height="11.3" fill="#433838"/>
<rect x="659.84" y="206.1" width="3.1" height="9.1" fill="#ff0000" stroke="#433838" stroke-opacity="0.65" stroke-width="0.65"/>
<rect x="665.51" y="213.7" width="1" height="6.0" fill="#433838"/>
<rect x="664.46" y="214.7" width="3.1" height="1.3" fill="#4a2a2a" stroke="#433838" stroke-opacity="0.65" stroke-width="0.65"/>
<rect x="670.13" y="204.6" width="1" height="15.6" fill="#433838"/>
<rect x="669.08" y="215.2" width="3.1" height="3.2" fill="#ff0000" stroke="#433838" stroke-opacity="0.65" stroke-width="0.65"/>
<rect x="674.75" y="216.4" width="1" height="27.5" fill="#433838"/>
<rect x="673.70" y="218.2" width="3.1" height="14.9" fill="#ff0000" stroke="#433838" stroke-opacity="0.65" stroke-width="0.65"/>
<rect x="679.37" y="220.7" width="1" height="15.1" fill="#433838"/>
<rect x="678.32" y="224.0" width="3.1" height="8.8" fill="#008000" stroke="#433838" stroke-opacity="0.65" stroke-width="0.65"/>
<rect x="683.99" y="221.2" width="1" height="25.7" fill="#433838"/>
<rect x="682.94" y="223.2" width="3.1" height="18.1" fill="#ff0000" stroke="#433838" stroke-opacity="0.65" stroke-width="0.65"/>
<rect x="688.60" y="231.6" width="1" height="17.1" fill="#433838"/>
<rect x="687.55" y="234.6" width="3.1" height="6.5" fill="#008000" stroke="#433838" stroke-opacity="0.65" stroke-width="0.65"/>
<rect x="693.22" y="234.6" width="1" height="27.5" fill="#433838"/>
<rect x="692.17" y="235.1" width="3.1" height="26.7" fill="#ff0000" stroke="#433838" stroke-opacity="0.65" stroke-width="0.65"/>
<rect x="697.84" y="248.4" width="1" height="19.4" fill="#433838"/>
<rect x="696.79" y="250.4" width="3.1" height="11.1" fill="#008000" stroke="#433838" stroke-opacity="0.65" stroke-width="0.65"/>
<rect x="702.46" y="250.0" width="1" height="12.8" fill="#433838"/>
<rect x="701.41" y="250.7" width="3.1" height="6.0" fill="#ff0000" stroke="#433838" stroke-opacity="0.65" stroke-width="0.65"/>
<polyline points="14.8,297.6 22.0,297.1 30.0,297.7 38.0,299.3 45.0,300.5 57.7,302.7 70.0,303.6 82.0,303.9 92.0,304.0 107.1,301.3 122.2,296.3 137.3,293.3 152.4,291.2 167.5,289.2 176.6,288.0 189.1,284.8 204.2,280.3 214.3,277.8 224.4,276.3 234.4,275.4 244.5,275.0 256.0,273.5 266.0,271.8 276.1,268.5 286.2,266.7 293.3,266.4 298.3,268.3 306.4,272.3 316.4,277.3 326.5,282.4 336.4,286.6 346.4,290.1 356.5,293.6 364.5,297.7 371.0,301.7 376.0,304.3 384.0,308.3 389.0,308.5 396.0,306.8 406.0,303.3 416.4,299.3 426.4,296.2 431.5,295.2 436.5,294.7 441.5,294.0 451.0,290.2 460.0,285.0 468.0,280.5 476.2,276.0 484.3,272.4 494.4,265.3 504.4,258.3 514.5,251.2 522.5,244.7 529.0,238.6 542.4,228.0 550.4,222.4 560.5,215.8 570.0,209.8 580.0,203.3 590.2,198.3 600.3,194.7 610.4,192.7 620.4,192.4 630.5,194.0 638.0,195.5 648.0,197.0 658.0,199.6 668.0,203.6 678.0,208.1 688.0,213.2 698.5,218.7 703.0,221.7" fill="none" stroke="#ff3a3a" stroke-opacity="0.55" stroke-width="1"/>
<polyline points="14.8,318.5 41.2,312.4 66.0,309.1 90.7,306.4 112.1,302.8 132.3,299.8 152.4,297.1 176.6,295.1 194.1,293.9 214.3,291.9 234.4,289.8 256.0,286.4 266.0,284.2 276.1,281.3 286.2,279.3 294.3,278.3 306.4,279.3 321.5,280.8 341.0,282.6 356.5,283.6 371.0,284.6 386.0,285.4 406.0,286.2 426.0,287.7 436.5,288.7 451.0,289.0 460.0,288.2 475.0,286.0 490.6,283.5 510.0,281.0 521.2,279.0 530.4,275.4 545.7,266.2 561.0,256.5 582.4,245.0 600.7,238.0 619.0,231.5 628.0,228.3 638.0,224.7 648.0,221.2 658.0,217.7 668.3,214.7 678.4,212.2 688.4,211.3 698.5,211.7 703.0,212.4" fill="none" stroke="#2f5f9e" stroke-opacity="0.85" stroke-width="0.95"/>
<rect x="11" y="107.3" width="765" height="1" fill="#a5d48a"/>
<rect x="11" y="143" width="765" height="1" fill="#a5d48a"/>
<rect x="11" y="201.7" width="765" height="2" fill="#1c5ef2" fill-opacity="0.72"/>
<rect x="11" y="332" width="765" height="2.4" fill="#ff0000"/>
<rect x="11" y="367.5" width="765" height="2.4" fill="#ff0000"/>
<line x1="703" y1="212.5" x2="776" y2="212.5" stroke="#3366cc" stroke-width="1" stroke-dasharray="1,3"/>
<line x1="711" y1="257.5" x2="776" y2="257.5" stroke="#555" stroke-width="1" stroke-dasharray="1,3"/>
<polygon points="775.2,202.7 782,195.2 847,195.2 847,210.2 782,210.2" fill="#1c5ef2"/>
<text x="785.2" y="206.2" font-size="11" fill="#fff">185.70</text>
<polygon points="775.2,257.2 782,249.8 847,249.8 847,264.6 782,264.6" fill="#333333"/>
<text x="785.2" y="260.7" font-size="11" fill="#fff">185.00</text>
<polygon points="775.2,333.29999999999995 781,325.4 847,325.4 847,341.2 781,341.2" fill="#ff0000"/>
<text x="785.2" y="336.8" font-size="11" fill="#fff">184.01</text>
<polygon points="775.2,368.9 781,361 847,361 847,376.8 781,376.8" fill="#ff0000"/>
<text x="785.2" y="372.4" font-size="11" fill="#fff">183.55</text>
<text x="784.9" y="111" font-size="11" fill="#4d9e1e">186.93</text>
<text x="784.9" y="147" font-size="11" fill="#4d9e1e">186.47</text>
<line x1="707.6" y1="257" x2="767" y2="359.5" stroke="#2f5f9e" stroke-width="4"/>
<polygon points="772,368 759.6,361.5 772.5,354.4" fill="#2f5f9e"/>
<line x1="1" y1="380.5" x2="849" y2="380.5" stroke="#f0f0f0" stroke-width="1" stroke-dasharray="1,3"/>
<line x1="1" y1="466.5" x2="849" y2="466.5" stroke="#f0f0f0" stroke-width="1" stroke-dasharray="1,3"/>
<line x1="11" y1="417.35" x2="776" y2="417.35" stroke="#a2a2a2" stroke-width="1" stroke-dasharray="1,3"/>
<line x1="11" y1="436.0" x2="776" y2="436.0" stroke="#a2a2a2" stroke-width="1" stroke-dasharray="1,3"/>
<line x1="11" y1="454.4" x2="776" y2="454.4" stroke="#a2a2a2" stroke-width="1" stroke-dasharray="1,3"/>
<line x1="703" y1="449.6" x2="776" y2="449.6" stroke="#3366cc" stroke-width="1" stroke-dasharray="1,3"/>
<polyline points="14.7,441.6 19.3,437.4 24.0,440.2 28.6,441.6 33.2,437.9 37.8,439.3 42.4,432.7 47.1,435.1 51.7,429.9 56.3,427.8 60.9,433.1 65.5,430.3 70.2,427.1 74.8,425.2 79.4,433.7 84.0,431.7 88.6,439.8 93.3,433.4 97.9,430.6 102.5,427.5 107.1,432.3 111.7,430.3 116.3,426.4 121.0,429.2 125.6,426.2 130.2,430.8 134.8,428.5 139.4,432.7 144.1,429.5 148.7,432.7 153.3,430.3 157.9,427.5 162.5,426.4 167.2,429.5 171.8,425.6 176.4,430.3 181.0,425.6 185.6,425.2 190.3,423.5 194.9,421.0 199.5,421.1 204.1,422.1 208.7,420.0 213.3,420.0 218.0,428.5 222.6,430.6 227.2,438.4 231.8,429.2 236.4,436.0 241.1,438.8 245.7,433.1 250.3,435.1 254.9,428.9 259.5,436.0 264.2,432.3 268.8,424.7 273.4,420.4 278.0,423.8 282.6,423.8 287.3,430.3 291.9,429.5 296.5,440.8 301.1,452.0 305.7,449.6 310.3,452.0 315.0,448.2 319.6,450.4 324.2,448.7 328.8,449.2 333.4,445.4 338.1,445.8 342.7,441.2 347.3,437.6 351.9,441.6 356.5,438.4 361.2,441.2 365.8,435.5 370.4,436.2 375.0,438.8 379.6,436.2 384.2,436.9 388.9,431.3 393.5,437.6 398.1,432.7 402.7,433.1 407.3,435.5 412.0,430.3 416.6,431.3 421.2,432.7 425.8,433.4 430.4,434.1 435.1,438.8 439.7,432.3 444.3,427.1 448.9,424.9 453.5,421.4 458.2,419.3 462.8,418.2 467.4,420.4 472.0,414.4 476.6,419.0 481.2,424.2 485.9,420.0 490.5,420.4 495.1,423.8 499.7,419.3 504.3,417.9 509.0,425.6 513.6,420.7 518.2,423.2 522.8,420.0 527.4,419.6 532.1,417.6 536.7,415.8 541.3,417.6 545.9,416.2 550.5,415.3 555.2,421.0 559.8,418.2 564.4,415.8 569.0,415.1 573.6,416.2 578.2,415.8 582.9,423.8 587.5,422.8 592.1,425.2 596.7,424.9 601.3,432.7 606.0,433.7 610.6,433.4 615.2,429.5 619.8,434.1 624.4,438.8 629.1,437.9 633.7,443.0 638.3,438.8 642.9,434.1 647.5,430.9 652.2,436.9 656.8,435.1 661.4,439.8 666.0,440.2 670.6,441.6 675.2,448.2 679.9,442.6 684.5,448.9 689.1,445.4 693.7,453.2 698.3,447.8 703.0,449.6" fill="none" stroke="#6f8fe8" stroke-width="1" stroke-linejoin="round"/>
<polyline points="14.4,430.8 24.1,434.8 33.3,437.4 42.5,438.4 47.4,438.6 56.6,436.2 65.0,434.1 75.0,430.9 83.4,430.3 93.3,431.3 102.5,430.9 111.6,431.6 120.8,431.3 130.0,430.2 134.2,429.5 143.4,429.5 153.2,429.6 161.7,429.5 171.6,429.5 180.0,428.9 190.0,427.1 198.4,425.4 208.3,423.8 216.8,422.8 222.4,423.5 230.9,425.6 238.0,428.2 242.0,429.6 247.0,431.7 254.0,433.4 261.2,434.5 268.2,433.1 275.3,431.3 282.4,428.9 291.4,427.8 296.5,429.2 305.0,432.7 313.4,438.4 321.9,443.3 330.4,447.2 337.6,449.2 345.9,447.2 353.0,445.0 358.0,443.8 362.0,442.6 369.1,440.5 379.0,438.4 388.3,437.2 397.5,435.8 406.8,435.1 416.0,433.7 425.2,433.4 434.5,433.4 443.7,433.1 453.0,430.9 462.2,427.8 471.5,423.8 476.0,422.1 485.2,420.0 494.4,419.7 503.6,420.3 513.0,421.4 522.0,421.4 531.4,421.0 540.6,420.0 550.0,419.0 559.0,417.9 568.4,417.2 577.6,416.8 587.0,418.0 595.9,419.6 605.2,423.2 614.4,427.1 623.7,430.6 632.9,434.1 637.5,436.0 646.8,436.2 656.0,436.9 665.3,437.6 674.5,438.4 681.0,439.3 688.3,441.9 697.7,445.0 702.5,446.4" fill="none" stroke="#ff2020" stroke-width="1.05"/>
<text x="785" y="420.8" font-size="11" fill="#777">70</text>
<text x="785" y="438.8" font-size="11" fill="#777">50</text>
<text x="785" y="457.8" font-size="11" fill="#777">30</text>
<polyline points="15.0,520.0 22.0,522.4 30.0,524.6 38.0,525.6 46.0,525.2 54.0,523.2 62.0,522.6 74.0,520.6 82.0,521.0 90.0,522.4 96.0,522.0 104.0,521.0 114.0,520.4 124.0,518.4 134.0,518.4 150.0,518.8 162.0,518.2 174.0,517.6 185.0,516.4 195.0,514.8 205.0,514.0 213.0,513.6 221.0,515.6 227.0,517.6 233.0,518.4 239.0,520.4 249.0,521.6 259.0,521.4 265.0,520.6 273.0,516.0 283.0,512.6 291.0,513.4 295.0,515.6 301.0,525.0 311.0,535.0 319.0,540.0 329.0,544.4 339.0,544.4 346.0,541.4 352.0,539.6 360.0,538.4 368.0,535.0 376.0,533.6 384.0,531.6 390.0,529.2 396.0,528.4 404.0,526.4 410.0,525.6 418.0,523.2 426.0,522.6 432.0,523.0 436.0,524.0 442.0,522.4 450.0,519.0 460.0,512.4 468.0,509.0 474.0,505.0 480.0,504.0 488.0,502.0 496.0,501.6 504.0,499.4 511.0,500.4 519.0,499.0 527.0,497.6 535.0,495.6 543.0,494.4 549.0,494.0 557.0,495.0 565.0,494.0 571.0,493.6 577.0,494.4 585.0,497.0 595.0,501.0 601.0,504.4 609.0,509.4 615.0,511.0 623.0,515.0 631.0,519.6 637.0,522.4 643.0,523.0 649.0,522.4 654.8,523.4 661.4,525.0 668.0,526.7 674.6,530.0 681.2,531.6 687.8,534.6 692.7,538.7 697.7,541.2 703.0,543.3" fill="none" stroke="#6e8ce9" stroke-width="1"/>
<polyline points="15.0,514.4 22.0,517.0 30.0,519.6 40.0,521.6 50.0,522.4 60.0,522.6 70.0,522.0 80.0,521.6 90.0,522.0 100.0,521.6 110.0,521.0 120.0,520.0 130.0,519.4 150.0,519.0 170.0,518.2 185.0,517.4 195.0,516.4 205.0,515.6 215.0,515.0 225.0,515.6 235.0,517.0 245.0,518.4 255.0,519.6 265.0,520.0 275.0,518.4 285.0,516.4 295.0,515.6 301.0,518.0 309.0,523.0 319.0,529.6 329.0,535.0 339.0,538.4 348.0,539.6 356.0,539.4 364.0,538.6 376.0,536.4 388.0,533.6 400.0,531.0 412.0,528.4 424.0,526.0 436.0,524.8 444.0,524.0 452.0,522.0 464.0,517.6 476.0,512.4 488.0,508.0 500.0,505.0 517.0,502.0 529.0,500.0 541.0,498.0 553.0,496.4 565.0,495.4 577.0,494.8 585.0,495.4 595.0,497.6 605.0,501.0 617.0,505.6 629.0,510.4 641.0,515.6 649.9,517.8 659.8,520.1 669.6,522.2 679.5,525.0 689.4,528.3 696.0,531.3 702.6,534.9" fill="none" stroke="#5aa82a" stroke-width="0.95"/>
<line x1="703" y1="543.4" x2="776" y2="543.4" stroke="#3366cc" stroke-width="1" stroke-dasharray="1,3"/>
<text x="785" y="505" font-size="11" fill="#777">0</text>
<text x="785" y="529" font-size="11" fill="#777">0</text>
<rect x="10.5" y="546" width="766" height="2" fill="#a0a0a0"/>
<rect x="10.5" y="546" width="1.2" height="7" fill="#a0a0a0"/>
<rect x="775.3" y="546" width="1.2" height="7" fill="#a0a0a0"/>
<text x="162.3" y="564" font-size="11" fill="#777" text-anchor="middle">Aug 29</text>
<text x="384.5" y="564" font-size="11" fill="#777" text-anchor="middle">Aug 30</text>
<text x="606.0" y="564" font-size="11" fill="#777" text-anchor="middle">Aug 31</text>
<text x="707.7" y="564" font-size="11" fill="#777" text-anchor="middle">Sep 1</text>
<rect x="13.6" y="84.3" width="12.6" height="4.4" fill="#ff8585"/>
<text x="33.3" y="90.1" font-size="10" fill="#777">MA 20 + Bollinger Bands</text>
<rect x="156.1" y="84.3" width="12.6" height="4.4" fill="#2f5f9e"/>
<text x="175.5" y="90.1" font-size="10" fill="#777">MA 50</text>
<text x="841" y="90" font-size="10" fill="#999" text-anchor="end">Research © 2023 Trading Central</text>
<rect x="13.6" y="393.3" width="12.6" height="4.4" fill="#5b80e0"/>
<text x="33.3" y="399.1" font-size="10" fill="#777">RSI</text>
<rect x="62.1" y="393.3" width="12.6" height="4.4" fill="#ff0000"/>
<text x="81.5" y="399.1" font-size="10" fill="#777">9MA</text>
<rect x="13.6" y="479.3" width="12.6" height="4.4" fill="#5b80e0"/>
<text x="33.3" y="485.1" font-size="10" fill="#777">MACD</text>
<rect x="75.1" y="479.3" width="12.6" height="4.4" fill="#4a9e1a"/>
<text x="94.5" y="485.1" font-size="10" fill="#777">MACD Signal</text>
</svg>
</div>
</body>
</html>
